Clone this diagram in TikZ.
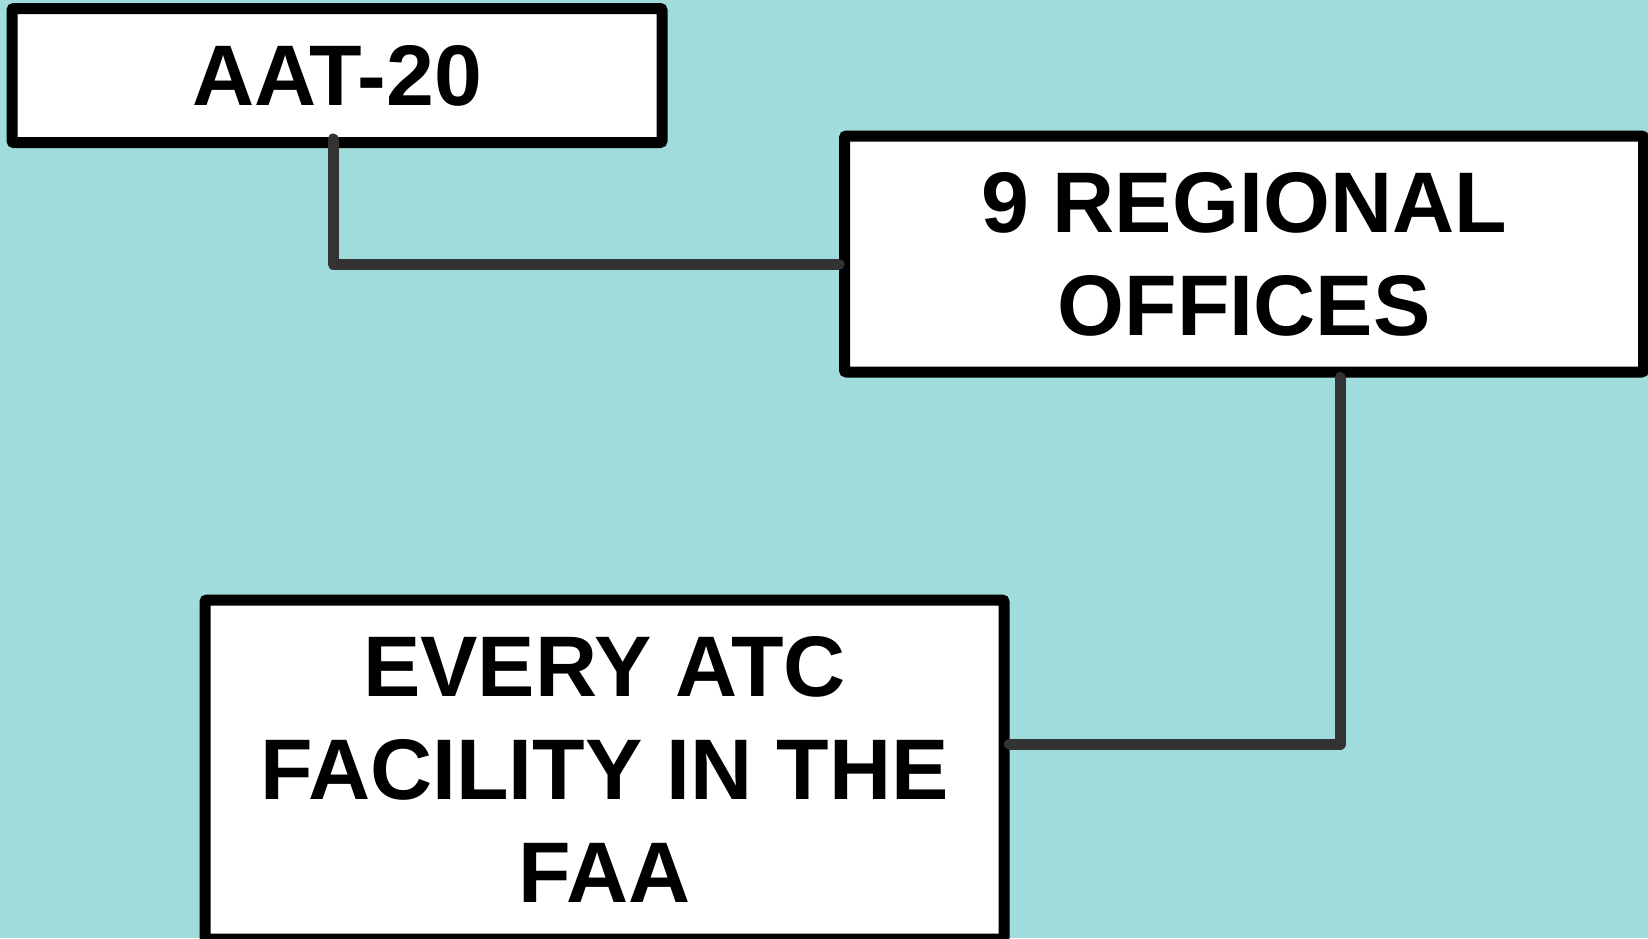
\documentclass[tikz,border=0pt]{standalone}
\usepackage{fontspec}
\setmainfont{Liberation Sans}
\definecolor{bgteal}{HTML}{9FDCDB}
\definecolor{linkgray}{HTML}{333333}
\begin{document}
\begin{tikzpicture}[x=1pt, y=-1pt,
  box/.style={draw=black, fill=white, line width=11pt, rounded corners=2pt,
    align=center, inner sep=0pt,
    font=\fontsize{86}{103}\selectfont\bfseries},
  link/.style={draw=linkgray, line width=11pt, line cap=round, line join=round}]
\fill[bgteal] (0,0) rectangle (1648,938);
\useasboundingbox (0,0) rectangle (1648,938);
\node[box, minimum width=650pt, minimum height=134pt] (aat) at (337,75.5) {AAT-20};
\node[box, minimum width=799pt, minimum height=236pt] (regional) at (1244,254) {9 REGIONAL\\OFFICES};
\node[box, minimum width=799pt, minimum height=339pt] (atc) at (604.5,769.5) {EVERY ATC\\FACILITY IN THE\\FAA};
\draw[link] ([xshift=-4pt, yshift=9pt]aat.south) |- ([yshift=-10pt]regional.west);
\draw[link] ([xshift=96pt]regional.south) |- ([yshift=25.5pt]atc.east);
\end{tikzpicture}
\end{document}
